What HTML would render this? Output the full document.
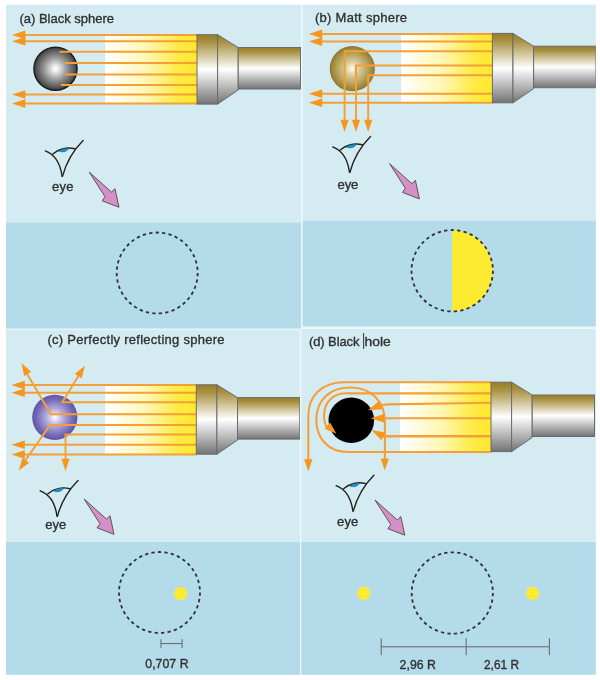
<!DOCTYPE html>
<html>
<head>
<meta charset="utf-8">
<title>Spheres and black hole illuminated by a flashlight</title>
<style>
html,body{margin:0;padding:0;background:#fff;}
body{width:600px;height:680px;overflow:hidden;}
svg{display:block;}
text{font-family:"Liberation Sans",sans-serif;fill:#303030;stroke:#303030;stroke-width:0.35px;}
.ray{fill:none;stroke:#f4a037;stroke-width:2;stroke-linejoin:round;}
.ah{fill:#f4971f;stroke:none;}
.dash{fill:none;stroke:#333;stroke-width:1.8;stroke-dasharray:51 49;}
.bar{fill:none;stroke:#666;stroke-width:1;}
.lbl{font-size:13px;}
.rd{stroke-width:2.1;}
.sm{font-size:13px;}
</style>
</head>
<body>
<svg width="600" height="680" viewBox="0 0 600 680">
<defs>
  <filter id="soft" x="0" y="0" width="600" height="680" filterUnits="userSpaceOnUse"><feGaussianBlur stdDeviation="0.6"/></filter>
  <linearGradient id="metal" x1="0" y1="0" x2="0" y2="1">
    <stop offset="0" stop-color="#987e27"/>
    <stop offset="0.1" stop-color="#a68f3e"/>
    <stop offset="0.5" stop-color="#ffffff"/>
    <stop offset="0.54" stop-color="#f4f4f4"/>
    <stop offset="1" stop-color="#737373"/>
  </linearGradient>
  <linearGradient id="beam" x1="0" y1="0" x2="1" y2="0">
    <stop offset="0" stop-color="#ffffff"/>
    <stop offset="0.08" stop-color="#fffef2"/>
    <stop offset="0.45" stop-color="#fff6b4"/>
    <stop offset="0.8" stop-color="#ffeb45"/>
    <stop offset="1" stop-color="#ffe82c"/>
  </linearGradient>
  <radialGradient id="gBlack" cx="0.5" cy="0.5" r="0.5">
    <stop offset="0" stop-color="#ffffff"/>
    <stop offset="0.12" stop-color="#f0f0f0"/>
    <stop offset="0.5" stop-color="#9c9c9c"/>
    <stop offset="0.85" stop-color="#5a5a5a"/>
    <stop offset="1" stop-color="#3a3a3a"/>
  </radialGradient>
  <radialGradient id="gMatt" cx="0.5" cy="0.5" r="0.5">
    <stop offset="0" stop-color="#fffef8"/>
    <stop offset="0.3" stop-color="#dacd9e"/>
    <stop offset="0.62" stop-color="#bba964"/>
    <stop offset="0.88" stop-color="#9f893c"/>
    <stop offset="1" stop-color="#8a752b"/>
  </radialGradient>
  <radialGradient id="gMirror" cx="0.5" cy="0.5" r="0.5">
    <stop offset="0" stop-color="#ffffff"/>
    <stop offset="0.35" stop-color="#b9b1dd"/>
    <stop offset="0.8" stop-color="#7569b5"/>
    <stop offset="1" stop-color="#5f54a3"/>
  </radialGradient>

  <!-- flashlight: origin at left/top of head; head 20.5 x 69.5 -->
  <g id="torch">
    <rect x="0" y="0" width="20.6" height="69.4" fill="url(#metal)" stroke="#6a6a6a" stroke-width="1"/>
    <path d="M20.6 0 L41.2 12.8 L41.2 55.3 L20.6 69.4 Z" fill="url(#metal)" stroke="#6a6a6a" stroke-width="1" stroke-linejoin="round"/>
    <rect x="41.2" y="12.8" width="62.3" height="41.5" fill="url(#metal)" stroke="#6a6a6a" stroke-width="1"/>
  </g>

  <!-- eye icon: tip of the V at 0,0 -->
  <g id="eye" fill="none" stroke="#222" stroke-width="1.4" stroke-linecap="round">
    <path d="M-17 -25.4 C-9 -22 -2.5 -16 -0.2 0"/>
    <path d="M20.8 -35.8 C11 -26 4 -14 0.2 0"/>
    <path d="M-9.5 -22.3 C-4 -27.5 5 -29.5 12.6 -27.5"/>
    <path d="M-3.6 -25.2 Q1 -28.9 6.8 -27.9 Q2.5 -22.4 -3.6 -25.2 Z" fill="#1f95cb" stroke="#14557a" stroke-width="0.4"/>
  </g>

  <!-- pink arrow: tail at 0,0 -->
  <path id="parrow" d="M0 0 L22.3 20 L25.8 16.6 L29.8 35.2 L12.9 28.7 L15.8 24.6 Z" fill="#d68fc7" stroke="#4a4a4a" stroke-width="0.9" stroke-linejoin="round"/>

  <!-- left pointing arrow head, tip at 0,0 -->
  <path id="ahL" class="ah" d="M0 0 L13.4 -4.3 L13.4 4.3 Z"/>
  <!-- down pointing arrow head, tip at 0,0 -->
  <path id="ahD" class="ah" d="M0 0 L-4.1 -12.2 L4.1 -12.2 Z"/>

  <clipPath id="clipA"><rect x="6" y="4.8" width="295" height="323.9"/></clipPath>
  <clipPath id="clipB"><rect x="302.6" y="4.8" width="293.2" height="321.8"/></clipPath>
  <clipPath id="clipC"><rect x="6" y="329.7" width="294" height="345"/></clipPath>
  <clipPath id="clipD"><rect x="301.2" y="329.1" width="294.6" height="345.6"/></clipPath>
</defs>

<g filter="url(#soft)">
<rect x="0" y="0" width="600" height="680" fill="#ffffff"/>
<!-- faint separators -->
<rect x="6" y="4.8" width="589.8" height="669.9" fill="#eef7fb"/>

<!-- ================= (a) Black sphere ================= -->
<g clip-path="url(#clipA)">
  <rect x="6" y="4" width="295" height="219" fill="#d5ebf2"/>
  <rect x="6" y="222.7" width="295" height="106" fill="#b4dbe9"/>
  <text class="lbl" x="19.4" y="23" textLength="94.6" lengthAdjust="spacing">(a) Black sphere</text>
  <rect x="105" y="34.3" width="92" height="69.6" fill="url(#beam)"/>
  <circle cx="55.5" cy="68.7" r="21.6" fill="url(#gBlack)" stroke="#1c1c1c" stroke-width="1.4"/>
  <path class="ray" d="M197 34.9 H22 M197 41.2 H22 M197 51.7 H59.5 M197 63 H65 M197 74.5 H65.3 M197 85 H61 M197 94.5 H22 M197 103.6 H22"/>
  <use href="#ahL" x="12" y="34.9"/>
  <use href="#ahL" x="12" y="41.2"/>
  <use href="#ahL" x="12" y="94.5"/>
  <use href="#ahL" x="12" y="103.6"/>
  <use href="#torch" x="197" y="34.7"/>
  <use href="#eye" x="62.3" y="176.3"/>
  <text class="lbl" x="52" y="190.5" textLength="21.6" lengthAdjust="spacing">eye</text>
  <use href="#parrow" x="89.2" y="172.1"/>
  <circle class="dash" pathLength="3900" cx="157.2" cy="273" r="40.5"/>
</g>

<!-- ================= (b) Matt sphere ================= -->
<g clip-path="url(#clipB)">
  <rect x="302" y="4" width="295" height="217" fill="#d5ebf2"/>
  <rect x="302" y="220.7" width="295" height="107" fill="#b4dbe9"/>
  <text class="lbl" x="315" y="22" textLength="92" lengthAdjust="spacing">(b) Matt sphere</text>
  <rect x="401" y="33.4" width="91.5" height="69.2" fill="url(#beam)"/>
  <circle cx="352.3" cy="68.7" r="22.6" fill="url(#gMatt)"/>
  <path class="ray" d="M492.5 33.9 H319 M492.5 41.6 H319 M492.5 51.3 H344.6 V122 M492.5 65.5 H356 V122 M492.5 75.3 H368.2 V122 M492.5 93.7 H319 M492.5 102.8 H319"/>
  <use href="#ahL" x="308.8" y="33.9"/>
  <use href="#ahL" x="308.8" y="41.6"/>
  <use href="#ahL" x="308.8" y="93.7"/>
  <use href="#ahL" x="308.8" y="102.8"/>
  <use href="#ahD" x="344.6" y="132"/>
  <use href="#ahD" x="356" y="132"/>
  <use href="#ahD" x="368.2" y="132"/>
  <use href="#torch" x="492.4" y="33.4"/>
  <use href="#eye" x="349.7" y="172.3"/>
  <text class="lbl" x="337.6" y="189" textLength="20.6" lengthAdjust="spacing">eye</text>
  <use href="#parrow" x="389.6" y="163.7"/>
  <path d="M452.2 230 A40.7 40.7 0 0 1 452.2 311.4 Z" fill="#fdeb31"/>
  <circle class="dash" pathLength="3900" cx="452.2" cy="270.7" r="40.7"/>
</g>

<!-- ================= (c) Perfectly reflecting sphere ================= -->
<g clip-path="url(#clipC)">
  <rect x="6" y="329" width="295" height="213.3" fill="#d5ebf2"/>
  <rect x="6" y="542" width="295" height="133" fill="#b4dbe9"/>
  <text class="lbl" x="47.5" y="344.4" textLength="177" lengthAdjust="spacing">(c) Perfectly reflecting sphere</text>
  <rect x="105" y="384.7" width="91.5" height="69.8" fill="url(#beam)"/>
  <circle cx="54.8" cy="417.3" r="22.6" fill="url(#gMirror)"/>
  <path class="ray" d="M196.5 385.1 H21 M196.5 392.7 H21 M196.5 402.2 H62.2 L80 373.5 M196.5 414.3 H50.8 L26 372 M196.5 425.1 H50 L23.5 463 M196.5 434.4 H65.5 V461 M196.5 444.8 H21 M196.5 454.5 H21"/>
  <use href="#ahL" x="11.4" y="385.1"/>
  <use href="#ahL" x="11.4" y="392.7"/>
  <use href="#ahL" x="11.4" y="444.8"/>
  <use href="#ahL" x="11.4" y="454.5"/>
  <use href="#ahD" x="65.5" y="471"/>
  <use href="#ahD" transform="translate(84.75 365.7) rotate(-148.2)"/>
  <use href="#ahD" transform="translate(21.5 363.3) rotate(149.6)"/>
  <use href="#ahD" transform="translate(18.75 470.4) rotate(35)"/>
  <use href="#torch" x="196.3" y="384.8"/>
  <use href="#eye" x="57.2" y="516.2"/>
  <text class="lbl" x="45.3" y="529.2" textLength="21" lengthAdjust="spacing">eye</text>
  <use href="#parrow" x="84.2" y="499.1"/>
  <circle class="dash" pathLength="3900" cx="159.5" cy="592.5" r="40.5"/>
  <circle cx="180.6" cy="593.5" r="6.6" fill="#fdeb31"/>
  <path class="bar" d="M161 643.6 H182.1 M161 639.2 V648 M182.1 639.2 V648"/>
  <text class="sm" x="145.3" y="668.4" textLength="43.3" lengthAdjust="spacingAndGlyphs">0,707 R</text>
</g>

<!-- ================= (d) Black hole ================= -->
<g clip-path="url(#clipD)">
  <rect x="301" y="329" width="296" height="213.3" fill="#d5ebf2"/>
  <rect x="301" y="542" width="296" height="133" fill="#b4dbe9"/>
  <text class="lbl" x="309" y="345.6"><tspan textLength="50.4" lengthAdjust="spacing">(d) Black</tspan> <tspan x="364.6" textLength="26.2" lengthAdjust="spacingAndGlyphs">hole</tspan></text>
  <rect x="363.2" y="333" width="0.9" height="16" fill="#222"/>
  <rect x="400" y="381.9" width="91" height="70.4" fill="url(#beam)"/>
  <circle cx="351.3" cy="420.3" r="22.8" fill="#000"/>
  <path class="ray rd" d="M491 382.2 H344 C322 382.2 308.3 396 308.3 416 V461"/>
  <path class="ray rd" d="M491 393.4 H350 C333 392 324 402 324 416 C324 423 326 427 329 430"/>
  <path class="ray rd" d="M491 452 H348 C328 452 316.3 438 316.3 420 C316.3 400 330 387.5 350 387.5 C372 387.5 384.9 402 384.9 422 V460"/>
  <path class="ray rd" d="M491 402.8 L388 404.4 C384 404.5 381 405 378 406.5"/>
  <path class="ray rd" d="M491 418.2 H380"/>
  <path class="ray rd" style="stroke-width:2.6" d="M491 436.2 H384 L380 434.5"/>
  <use href="#ahD" x="308.3" y="471.4"/>
  <use href="#ahD" x="384.8" y="470.6"/>
  <use href="#ahL" x="370.6" y="418.2"/>
  <use href="#ahL" transform="translate(368 410.3) rotate(-22)"/>
  <use href="#ahL" transform="translate(371.5 430.1) rotate(28)"/>
  <use href="#ahD" transform="translate(336.4 433.8) rotate(-48)"/>
  <use href="#torch" x="491" y="382.2"/>
  <use href="#eye" x="353.1" y="511.1"/>
  <text class="lbl" x="337" y="525.8" textLength="21.3" lengthAdjust="spacing">eye</text>
  <use href="#parrow" x="375" y="500"/>
  <circle class="dash" pathLength="3900" cx="452.3" cy="593" r="40.6"/>
  <circle cx="363.8" cy="593.3" r="6.6" fill="#fdeb31"/>
  <circle cx="532.5" cy="593.3" r="6.6" fill="#fdeb31"/>
  <path class="bar" d="M381.2 646.8 H549.4 M381.2 638.2 V655.2 M466.2 638.2 V655.2 M549.4 638.2 V655.2"/>
  <text class="sm" x="399.6" y="669" textLength="36.4" lengthAdjust="spacingAndGlyphs">2,96 R</text>
  <text class="sm" x="484" y="669" textLength="35" lengthAdjust="spacingAndGlyphs">2,61 R</text>
</g>
</g>
</svg>
</body>
</html>
